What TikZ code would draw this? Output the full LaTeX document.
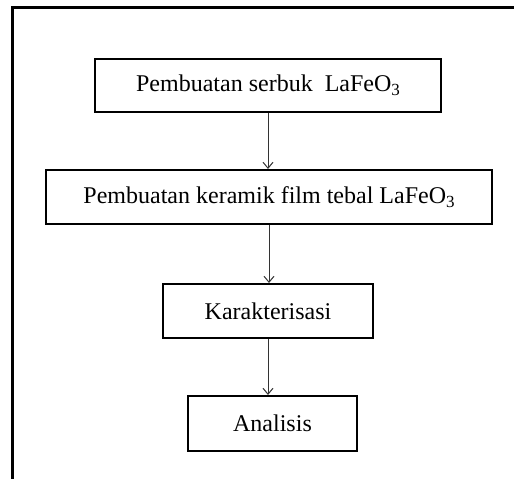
\documentclass[tikz,border=0pt]{standalone}
\usepackage{fontspec}
\setmainfont{Liberation Serif}
\usetikzlibrary{arrows.meta}
\newcommand{\sub}[1]{\raisebox{-0.35ex}{\fontsize{17}{17}\selectfont #1}}
\newcommand{\boxfont}{\fontsize{24}{27}\selectfont}

\begin{document}
\begin{tikzpicture}[x=1pt, y=-1pt,
      every node/.style = {shape=rectangle, draw, line width=2pt,
        align=center, inner sep=0pt, font=\boxfont},
      flow/.style = {-{Straight Barb[length=6pt,width=10pt]},
        draw=black!80, line width=1pt}]
  \useasboundingbox (0,0) rectangle (514,479);
  \draw[line width=3.5pt] (12.5,479) -- (12.5,7.5) -- (514,7.5);
  \node[minimum width=346pt, minimum height=53pt] (serbuk) at (268,85.5)
    {Pembuatan serbuk \ LaFeO\sub{3}};
  \node[minimum width=446pt, minimum height=54pt] (keramik) at (269,197)
    {Pembuatan keramik film tebal LaFeO\sub{3}};
  \node[minimum width=210pt, minimum height=54pt] (karakter) at (268,311)
    {Karakterisasi};
  \node[minimum width=169pt, minimum height=55pt] (analisis) at (272.5,423.5)
    {Analisis};
  \draw[flow] (serbuk.south) -- (serbuk.south |- keramik.north);
  \draw[flow] (keramik.south) -- (keramik.south |- karakter.north);
  \draw[flow] (karakter.south) -- (karakter.south |- analisis.north);
\end{tikzpicture}
\end{document}
